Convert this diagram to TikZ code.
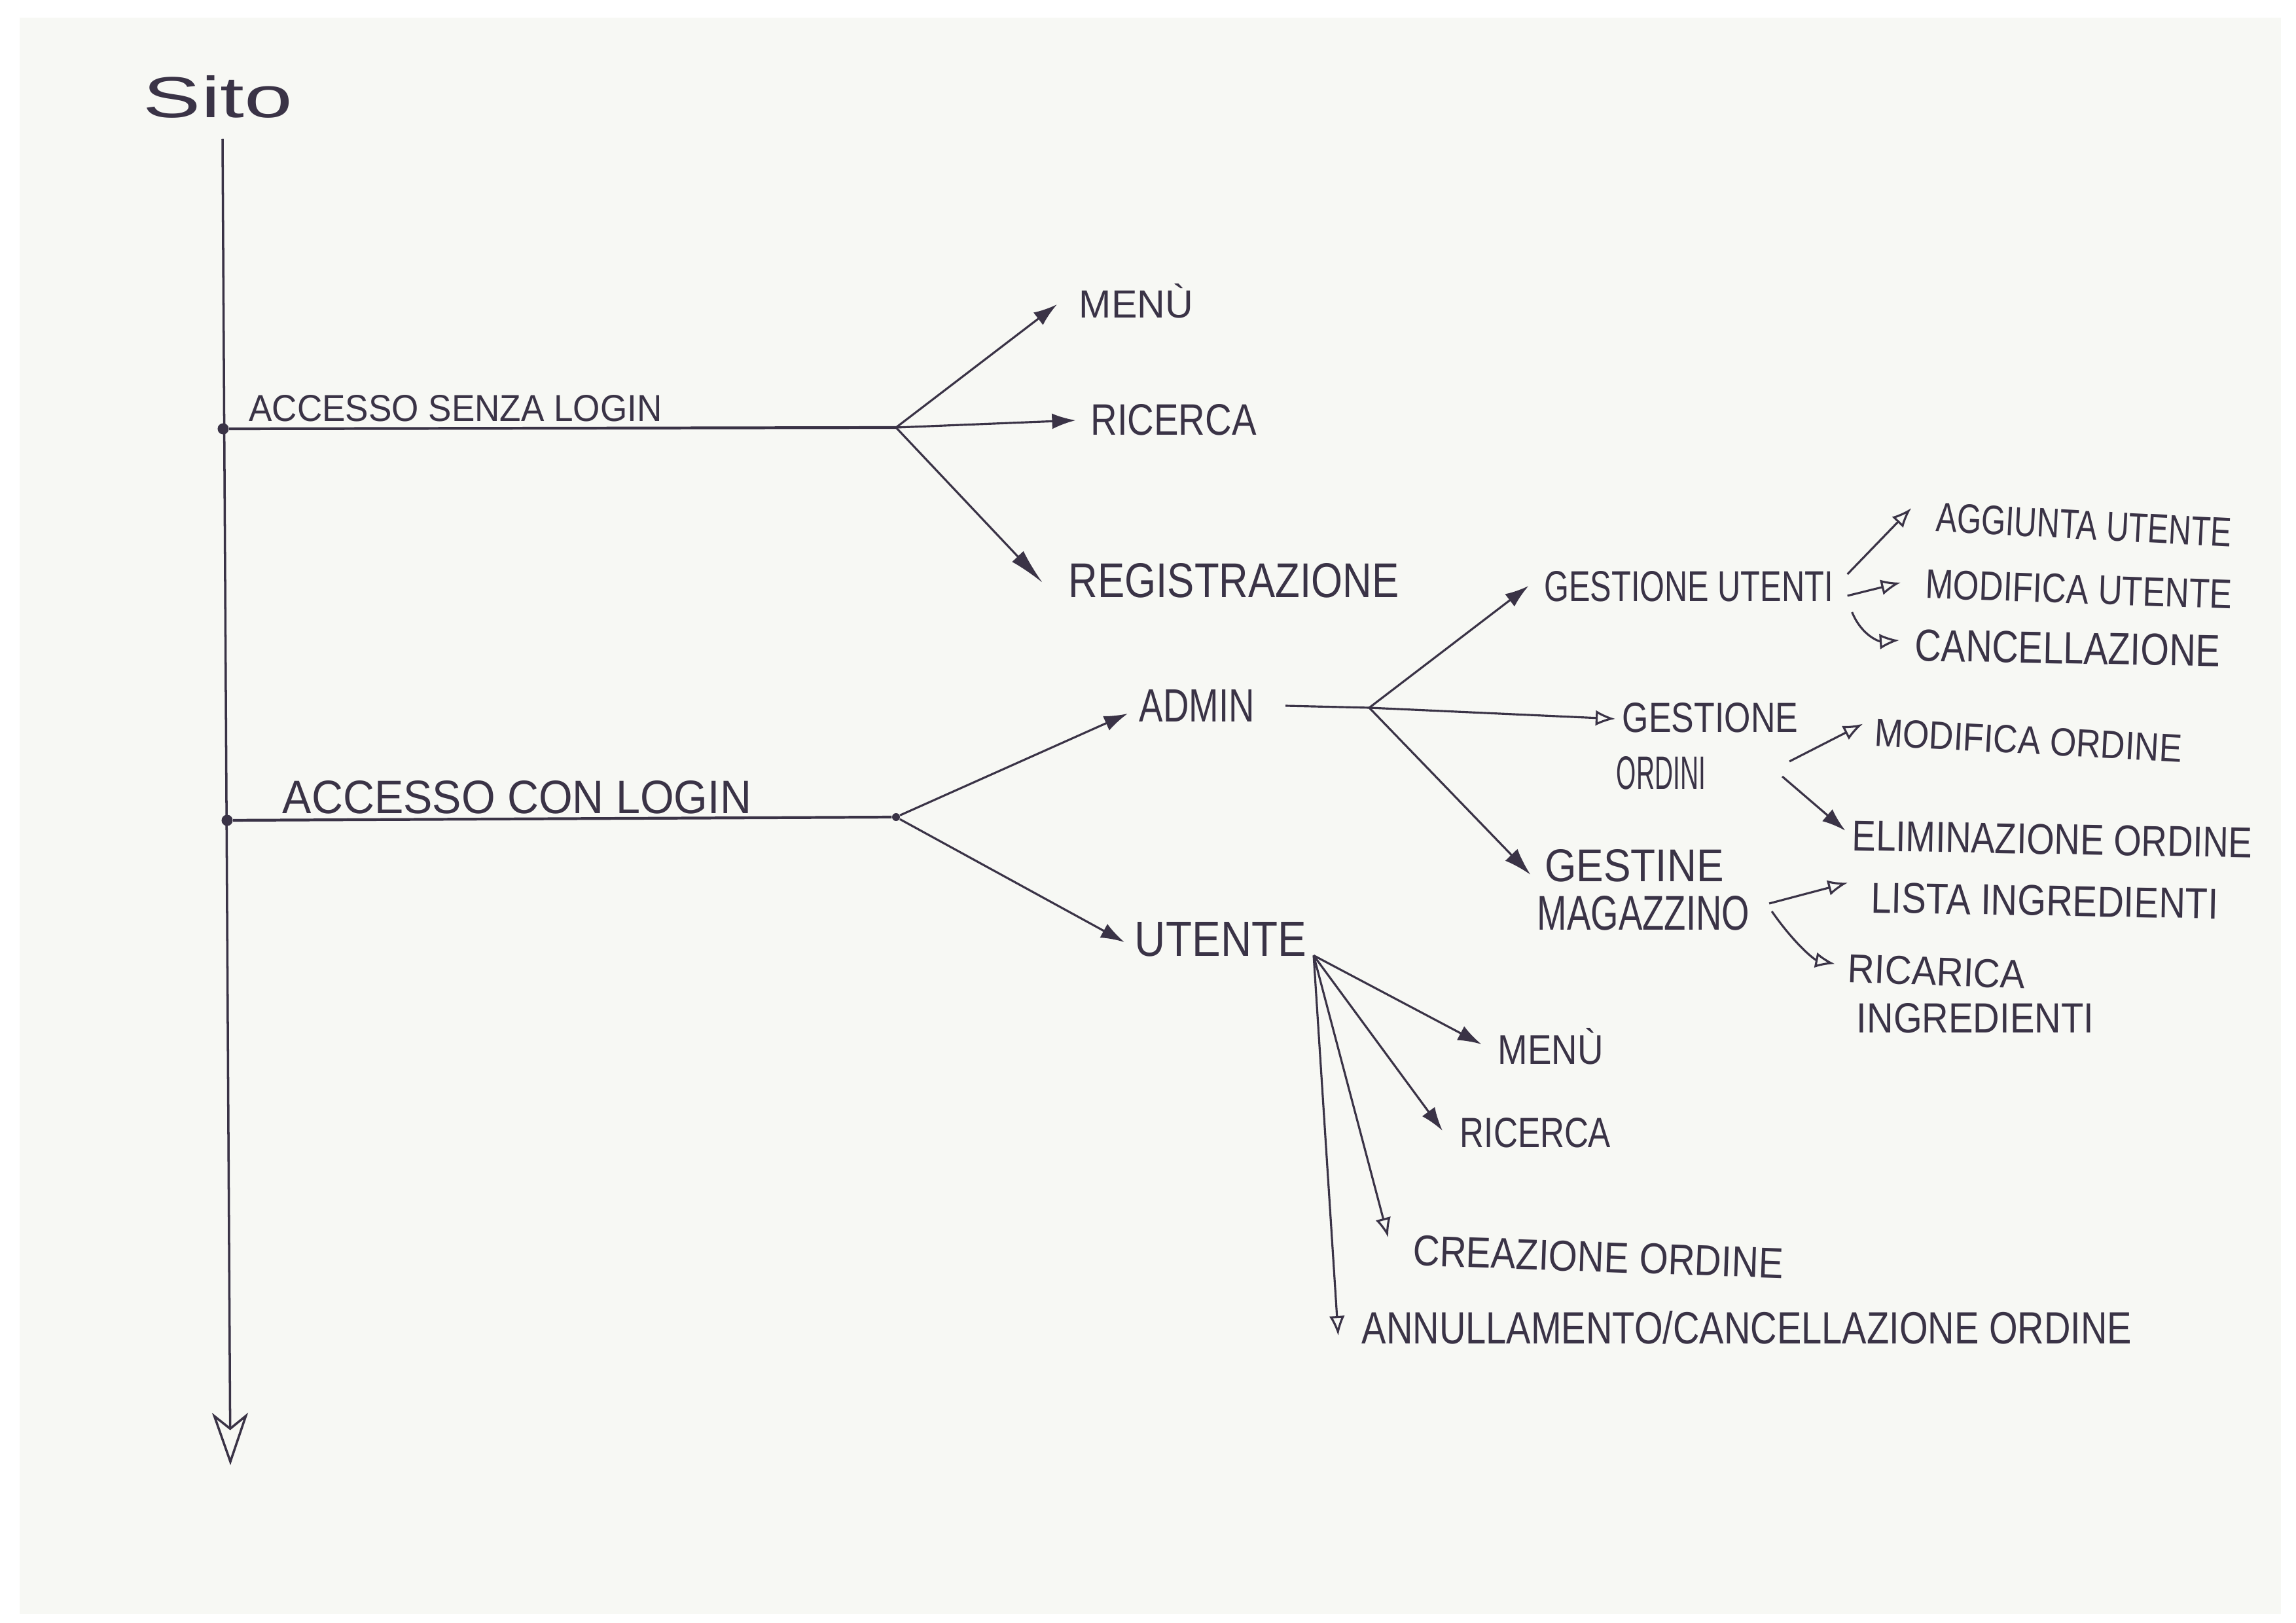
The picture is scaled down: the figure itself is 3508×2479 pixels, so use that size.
\documentclass[tikz,border=0pt]{standalone}
\usepackage{fontspec}
\setmainfont{Liberation Sans}
\usetikzlibrary{arrows.meta,calc}
\definecolor{ink}{HTML}{3A3346}
\definecolor{paper}{HTML}{F7F8F4}
\newcommand\fitbox[3]{\resizebox{#1cm}{#2cm}{#3}}
\tikzset{
  lbl/.style={inner sep=0pt, outer sep=0pt, text=ink, anchor=center},
  ln/.style={draw=ink, line width=0.9pt},
  thk/.style={draw=ink, line width=1.2pt},
  fa/.style={ln, -{Latex[length=0.36cm,width=0.24cm]}},
  oa/.style={ln, -{Latex[open,length=0.3cm,width=0.24cm]}},
  blob/.style={circle, fill=ink, inner sep=0pt, minimum size=0.17cm}
}
\begin{document}
\begin{tikzpicture}[x=0.01cm, y=-0.01cm]
\fill[white] (0,0) rectangle (3508,2479);
\fill[paper] (30,27) rectangle (3485,2465);
\useasboundingbox (0,0) rectangle (3508,2479);

% title
\node[lbl] (sito) at (333,148) {\fitbox{2.28}{0.64}{Sito}};

% main timeline
\coordinate (top) at (340,212);
\coordinate (bot) at (352,2238);
\draw[ln, line width=1pt, -{Stealth[open,length=0.8cm,width=0.55cm,inset=0.22cm]}] (top) -- (bot);

\node[blob] (d1) at (341,655) {};
\node[blob] (d2) at (347,1253) {};
\coordinate (b1) at (1369,653);
\node[blob, minimum size=0.12cm] (b2) at (1369,1248) {};
\coordinate (b3) at (2092,1081);

% labels, left side
\node[lbl] (asl) at (696,624) {\fitbox{6.31}{0.40}{ACCESSO SENZA LOGIN}};
\node[lbl] (acl) at (790,1218) {\fitbox{7.16}{0.50}{ACCESSO CON LOGIN}};

\node[lbl] (menu1) at (1736,460) {\fitbox{1.74}{0.52}{MENÙ}};
\node[lbl] (ric1) at (1793,641) {\fitbox{2.53}{0.47}{RICERCA}};
\node[lbl] (reg) at (1885,887) {\fitbox{5.04}{0.52}{REGISTRAZIONE}};

\node[lbl] (admin) at (1829,1078) {\fitbox{1.76}{0.49}{ADMIN}};
\node[lbl] (utente) at (1865,1435) {\fitbox{2.62}{0.52}{UTENTE}};

% admin subtree
\node[lbl] (gu) at (2580,896) {\fitbox{4.41}{0.46}{GESTIONE UTENTI}};
\node[lbl] (go1) at (2613,1096) {\fitbox{2.68}{0.45}{GESTIONE}};
\node[lbl] (go2) at (2538,1181) {\fitbox{1.36}{0.50}{ORDINI}};
\node[lbl] (gm1) at (2497,1322) {\fitbox{2.73}{0.49}{GESTINE}};
\node[lbl] (gm2) at (2511,1395) {\fitbox{3.24}{0.52}{MAGAZZINO}};

\node[lbl, rotate=-3] (agg) at (3184,802) {\fitbox{4.52}{0.44}{AGGIUNTA UTENTE}};
\node[lbl, rotate=-2] (modu) at (3176,900) {\fitbox{4.68}{0.44}{MODIFICA UTENTE}};
\node[lbl, rotate=-1] (canc) at (3159,990) {\fitbox{4.66}{0.48}{CANCELLAZIONE}};
\node[lbl, rotate=-3] (modo) at (3099,1131) {\fitbox{4.70}{0.42}{MODIFICA ORDINE}};
\node[lbl, rotate=-1] (elim) at (3136,1282) {\fitbox{6.11}{0.46}{ELIMINAZIONE ORDINE}};
\node[lbl, rotate=-1] (lista) at (3124,1376) {\fitbox{5.30}{0.46}{LISTA INGREDIENTI}};
\node[lbl, rotate=-2] (rica) at (2959,1484) {\fitbox{2.71}{0.43}{RICARICA}};
\node[lbl] (ricb) at (3018,1555) {\fitbox{3.62}{0.45}{INGREDIENTI}};

% utente subtree
\node[lbl] (menu2) at (2369,1598) {\fitbox{1.61}{0.55}{MENÙ}};
\node[lbl] (ric3) at (2346,1730) {\fitbox{2.30}{0.45}{RICERCA}};
\node[lbl, rotate=-2] (crea) at (2442,1920) {\fitbox{5.66}{0.46}{CREAZIONE ORDINE}};
\node[lbl] (ann) at (2669,2028) {\fitbox{11.76}{0.50}{ANNULLAMENTO/CANCELLAZIONE ORDINE}};

% connectors
\draw[thk] (d1) -- (b1);
\draw[thk] (d2) -- (b2);

\draw[fa] (b1) -- ($(menu1.west)+(-34,5)$);
\draw[fa] (b1) -- ($(ric1.west)+(-23,1)$);
\draw[fa, -{Latex[length=0.55cm,width=0.24cm]}] (b1) -- ($(reg.west)+(-40,3)$);

\draw[fa] (b2) -- ($(admin.west)+(-18,12)$);
\draw[fa] (b2) -- ($(utente.west)+(-16,4)$);

\draw[ln] ($(admin.east)+(47,0)$) -- (b3);
\draw[fa] (b3) -- ($(gu.west)+(-24,-1)$);
\draw[oa] (b3) -- ($(go1.west)+(-11,2)$);
\draw[fa, -{Latex[length=0.42cm,width=0.26cm]}] (b3) -- ($(gm1.west)+(-22,14)$);

\draw[oa] ($(gu.east)+(22,-19)$) -- ($(agg.west)+(-38,-14)$);
\draw[oa] ($(gu.east)+(22,14)$) -- ($(modu.west)+(-38,-2)$);
\draw[oa] ($(gu.east)+(29,39)$) .. controls (2845,972) and (2872,980) .. ($(canc.west)+(-24,-8)$);

\draw[oa] ($(go2.east)+(128,-18)$) -- ($(modo.west)+(-18,-13)$);
\draw[fa] ($(go2.east)+(117,5)$) -- ($(elim.west)+(-11,-8)$);

\draw[oa] ($(gm2.east)+(30,-15)$) -- ($(lista.west)+(-36,-23)$);
\draw[oa] ($(gm2.east)+(34,-3)$) .. controls (2742,1442) and (2772,1466) .. ($(rica.west)+(-20,-7)$);

\coordinate (us) at ($(utente.south east)+(11,-2)$);
\draw[fa] (us) -- ($(menu2.west)+(-25,-3)$);
\draw[fa] (us) -- ($(ric3.west)+(-27,-3)$);
\draw[oa] (us) -- ($(crea.west)+(-38,-20)$);
\draw[oa] (us) -- ($(ann.west)+(-36,12)$);
\end{tikzpicture}
\end{document}
